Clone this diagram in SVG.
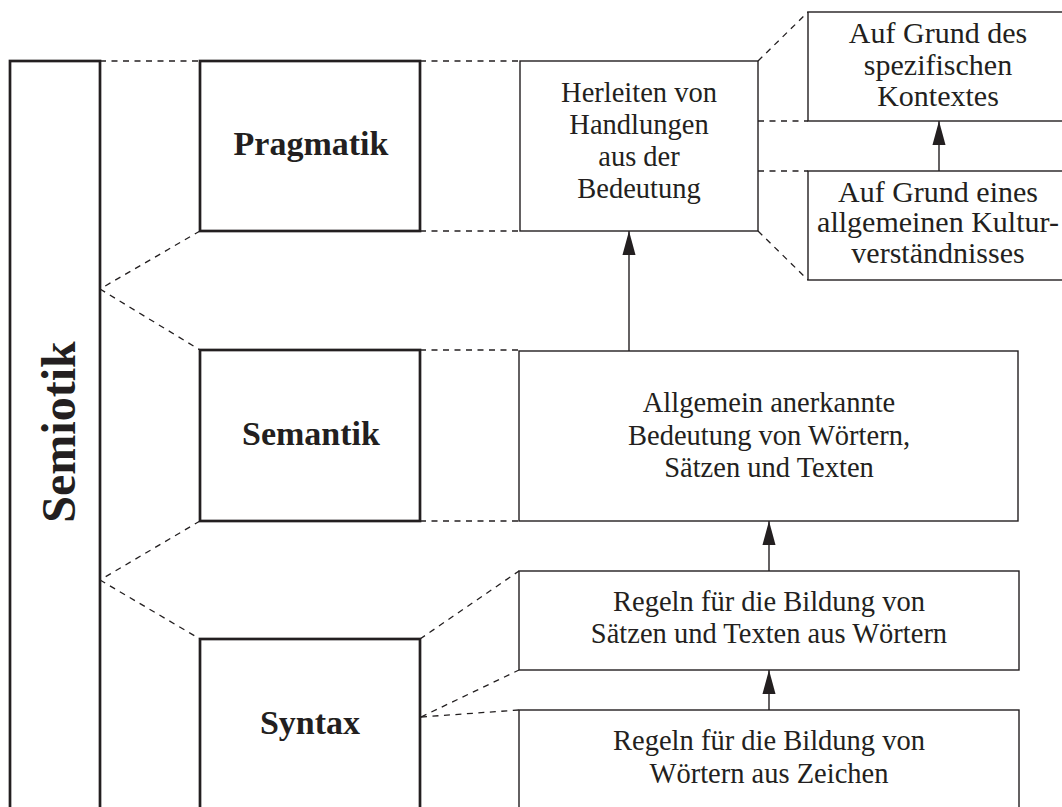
<svg xmlns="http://www.w3.org/2000/svg" width="1062" height="807" viewBox="0 0 1062 807">
  <style>
    .thick { fill: #ffffff; stroke: #231f20; stroke-width: 2.7; }
    .thin { fill: #ffffff; stroke: #231f20; stroke-width: 1.4; }
    .dash { fill: none; stroke: #231f20; stroke-width: 1.3; stroke-dasharray: 6 5.5; }
    .arrow { fill: none; stroke: #231f20; stroke-width: 1.4; marker-end: url(#head); }
    .title { font-family: "Liberation Serif", "Times New Roman", serif; font-weight: bold; fill: #231f20; text-anchor: middle; }
    .body { font-family: "Liberation Serif", "Times New Roman", serif; fill: #231f20; text-anchor: middle; font-size: 28.5px; }
    .side { font-size: 30px; }
  </style>
  <defs>
    <marker id="head" markerUnits="userSpaceOnUse" markerWidth="24" markerHeight="14" viewBox="0 0 22 12" refX="22" refY="6" orient="auto">
      <path d="M0,0 L22,6 L0,12 Z" fill="#231f20"/>
    </marker>
  </defs>
  <rect width="1062" height="807" fill="#ffffff"/>

  <!-- dashed guide lines and arrows -->
  <g id="connectors">
    <line class="dash" x1="100" y1="61" x2="200" y2="61"/>
    <line class="dash" x1="200" y1="231" x2="100" y2="289"/>
    <line class="dash" x1="100" y1="289" x2="200" y2="350"/>
    <line class="dash" x1="200" y1="521" x2="100" y2="580"/>
    <line class="dash" x1="100" y1="580" x2="200" y2="639"/>

    <line class="dash" x1="420" y1="61" x2="520" y2="61"/>
    <line class="dash" x1="420" y1="231" x2="520" y2="231"/>
    <line class="dash" x1="420" y1="350" x2="520" y2="350"/>
    <line class="dash" x1="420" y1="521" x2="520" y2="521"/>
    <line class="dash" x1="420" y1="639" x2="519" y2="571"/>
    <line class="dash" x1="421" y1="717" x2="519" y2="670"/>
    <line class="dash" x1="421" y1="717" x2="519" y2="710"/>

    <line class="dash" x1="758" y1="61" x2="808" y2="12"/>
    <line class="dash" x1="758" y1="121" x2="808" y2="121"/>
    <line class="dash" x1="758" y1="171" x2="808" y2="171"/>
    <line class="dash" x1="758" y1="231" x2="808" y2="280"/>

    <line class="arrow" x1="629" y1="351" x2="629" y2="231"/>
    <line class="arrow" x1="939" y1="171" x2="939" y2="121"/>
    <line class="arrow" x1="769" y1="571" x2="769" y2="521"/>
    <line class="arrow" x1="769" y1="710" x2="769" y2="670"/>
  </g>

  <g id="semiotik">
    <rect class="thick" x="10" y="61" width="90" height="760"/>
    <text class="title" font-size="48" transform="translate(75,432) rotate(-90)">Semiotik</text>
  </g>

  <g id="pragmatik">
    <rect class="thick" x="200" y="61" width="220" height="170"/>
    <text class="title" font-size="34" x="311" y="155">Pragmatik</text>
  </g>

  <g id="semantik">
    <rect class="thick" x="200" y="350" width="220" height="171"/>
    <text class="title" font-size="34" x="311" y="445">Semantik</text>
  </g>

  <g id="syntax">
    <rect class="thick" x="200" y="639" width="220" height="190"/>
    <text class="title" font-size="34" x="310" y="734">Syntax</text>
  </g>

  <g id="herleiten">
    <rect class="thin" x="520" y="61" width="238" height="170"/>
    <text class="body" x="639" y="102">Herleiten von</text>
    <text class="body" x="639" y="134">Handlungen</text>
    <text class="body" x="639" y="166">aus der</text>
    <text class="body" x="639" y="198">Bedeutung</text>
  </g>

  <g id="kontext">
    <rect class="thin" x="808" y="12" width="262" height="109"/>
    <text class="body side" x="938" y="43">Auf Grund des</text>
    <text class="body side" x="938" y="75">spezifischen</text>
    <text class="body side" x="938" y="106">Kontextes</text>
  </g>

  <g id="kultur">
    <rect class="thin" x="808" y="171" width="262" height="109"/>
    <text class="body side" x="938" y="202">Auf Grund eines</text>
    <text class="body side" x="938" y="232">allgemeinen Kultur-</text>
    <text class="body side" x="938" y="263">verständnisses</text>
  </g>

  <g id="bedeutung">
    <rect class="thin" x="519" y="351" width="499" height="170"/>
    <text class="body" x="769" y="412">Allgemein anerkannte</text>
    <text class="body" x="769" y="445">Bedeutung von Wörtern,</text>
    <text class="body" x="769" y="477">Sätzen und Texten</text>
  </g>

  <g id="saetze">
    <rect class="thin" x="519" y="571" width="500" height="99"/>
    <text class="body" x="769" y="611">Regeln für die Bildung von</text>
    <text class="body" x="769" y="643">Sätzen und Texten aus Wörtern</text>
  </g>

  <g id="woerter">
    <rect class="thin" x="519" y="710" width="500" height="110"/>
    <text class="body" x="769" y="750">Regeln für die Bildung von</text>
    <text class="body" x="769" y="783">Wörtern aus Zeichen</text>
  </g>
</svg>
